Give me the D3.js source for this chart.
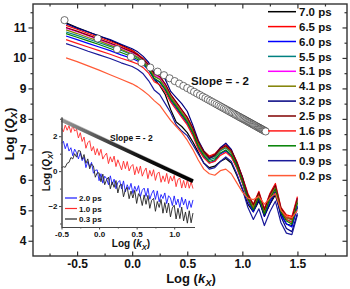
<!DOCTYPE html>
<html><head><meta charset="utf-8">
<script src="https://cdn.jsdelivr.net/npm/d3@7"></script>
<style>
body{margin:0;background:#fff}
svg{display:block}
text{font-family:"Liberation Sans",Arial,sans-serif;font-weight:bold;fill:#111}
</style>
</head><body><svg id="c" width="350" height="289"></svg>
<script>
// ---------- main chart data ----------
const xGrid = [-0.6,-0.5,-0.4,-0.3,-0.2,-0.1,0.0,0.05,0.1,0.15,0.2,0.25,0.3,0.35,0.4,0.45,0.5,0.55,0.6,0.65,0.7,0.75,0.8,0.85,0.9,0.95,1.0,1.05,1.1,1.15,1.2,1.25,1.3,1.35,1.4,1.45,1.5];
const s70 = [11.15,11.0,10.86,10.72,10.58,10.42,10.25,10.12,9.95,9.7,9.3,9.1,8.8,8.3,7.9,7.75,7.55,7.25,6.9,6.55,6.4,6.45,6.6,6.7,6.55,6.15,5.7,5.2,4.95,5.3,4.85,5.2,5.5,4.9,4.55,4.5,5.1];
const s65 = [11.07,10.94,10.8,10.67,10.54,10.4,10.24,10.12,9.98,9.78,9.45,9.38,9.12,8.8,8.55,8.3,8.05,7.7,7.25,6.95,6.78,6.85,7.05,7.15,6.98,6.6,6.1,5.55,5.2,5.62,5.05,5.55,5.88,5.1,4.85,4.8,5.45];
const s60 = [10.72,10.6,10.48,10.36,10.24,10.1,9.98,9.9,9.78,9.6,9.3,9.2,8.95,8.6,8.35,8.1,7.85,7.5,7.05,6.75,6.55,6.62,6.85,6.95,6.78,6.4,5.9,5.3,4.95,5.38,4.8,5.3,5.62,4.85,4.55,4.45,5.15];
const s55 = [10.85,10.74,10.62,10.5,10.38,10.25,10.1,10.0,9.86,9.68,9.4,9.3,9.05,8.7,8.45,8.2,7.95,7.6,7.15,6.85,6.65,6.72,6.95,7.05,6.88,6.5,6.0,5.42,5.08,5.5,4.92,5.42,5.75,5.0,4.7,4.62,5.3];
const s51 = [10.98,10.86,10.73,10.6,10.47,10.33,10.18,10.08,9.94,9.75,9.45,9.35,9.1,8.75,8.5,8.25,8.0,7.65,7.2,6.9,6.72,6.8,7.0,7.1,6.92,6.55,6.05,5.5,5.15,5.55,5.0,5.5,5.8,5.05,4.78,4.7,5.38];
const s41 = [10.92,10.8,10.67,10.55,10.42,10.28,10.13,10.03,9.9,9.7,9.4,9.3,9.05,8.72,8.47,8.22,7.97,7.62,7.18,6.88,6.7,6.77,6.98,7.08,6.9,6.52,6.02,5.47,5.12,5.52,4.97,5.47,5.78,5.02,4.75,4.68,5.35];
const s32 = [11.12,10.98,10.85,10.72,10.6,10.45,10.3,10.2,10.05,9.85,9.5,9.55,9.3,8.9,8.7,8.5,8.25,7.8,7.3,6.95,6.7,6.8,7.05,7.2,7.0,6.55,6.1,5.4,5.0,5.35,4.8,5.2,5.6,4.8,4.4,4.3,4.9];
const s25 = [11.0,10.88,10.75,10.62,10.49,10.35,10.2,10.1,9.96,9.77,9.48,9.4,9.15,8.8,8.55,8.3,8.05,7.7,7.25,6.92,6.74,6.82,7.02,7.12,6.95,6.58,6.08,5.52,5.18,5.58,5.02,5.52,5.82,5.08,4.8,4.72,5.4];
const s16 = [10.6,10.48,10.36,10.24,10.12,9.99,9.87,9.8,9.68,9.5,9.22,9.12,8.88,8.55,8.3,8.05,7.8,7.45,7.0,6.72,6.55,6.6,6.8,6.9,6.75,6.38,5.9,5.35,5.05,5.45,4.9,5.4,5.7,4.98,4.7,4.6,5.25];
const s11 = [10.8,10.68,10.56,10.44,10.31,10.18,10.04,9.95,9.82,9.62,9.33,9.22,8.98,8.65,8.4,8.15,7.9,7.55,7.1,6.8,6.6,6.66,6.88,6.98,6.82,6.45,5.95,5.38,5.02,5.45,4.88,5.38,5.7,4.95,4.65,4.55,5.25];
const s09 = [10.47,10.35,10.22,10.1,9.98,9.84,9.72,9.62,9.48,9.25,8.95,8.8,8.5,8.2,7.8,7.6,7.45,7.15,6.85,6.55,6.35,6.4,6.6,6.75,6.6,6.2,5.7,5.1,4.7,5.05,4.5,4.95,5.3,4.6,4.25,4.2,4.85];
const s02 = [10.0,9.88,9.74,9.6,9.45,9.3,9.15,9.05,8.92,8.78,8.6,8.45,8.2,7.95,7.75,7.55,7.3,7.0,6.65,6.35,6.2,6.15,6.3,6.35,6.2,5.9,5.6,5.4,5.35,5.45,5.2,5.4,5.55,5.0,4.8,4.75,5.0];
const seriesNames = ["7.0 ps","6.5 ps","6.0 ps","5.5 ps","5.1 ps","4.1 ps","3.2 ps","2.5 ps","1.6 ps","1.1 ps","0.9 ps","0.2 ps"];
const seriesColors = ["#000000","#ff0000","#0000ff","#008080","#ff00ff","#808000","#000080","#800000","#ff1a1a","#008000","#1a1a9a","#ff5a36"];
const seriesValues = [s70,s65,s60,s55,s51,s41,s32,s25,s16,s11,s09,s02];

// slope = -2 reference (open circles)
const circX = [-0.614,-0.313,-0.137,-0.012,0.085,0.164,0.231,0.289,0.340,0.386,0.427,0.465,0.500,0.532,0.562,0.590,0.616,0.641,0.665,0.687,0.708,0.728,0.748,0.766,0.784,0.801,0.817,0.833,0.848,0.863,0.877,0.891,0.905,0.917,0.930,0.942,0.954,0.966,0.977,0.988,0.999,1.009,1.019,1.029,1.039,1.049,1.058,1.067,1.076,1.085,1.094,1.102,1.110,1.118,1.126,1.134,1.142,1.149,1.157,1.164,1.171,1.178,1.185,1.192,1.199,1.206,1.212];
const circY = [11.24,10.638,10.286,10.036,9.842,9.684,9.55,9.434,9.332,9.24,9.158,9.082,9.012,8.948,8.888,8.832,8.78,8.73,8.682,8.638,8.596,8.556,8.516,8.48,8.444,8.41,8.378,8.346,8.316,8.286,8.258,8.23,8.202,8.178,8.152,8.128,8.104,8.08,8.058,8.036,8.014,7.994,7.974,7.954,7.934,7.914,7.896,7.878,7.86,7.842,7.824,7.808,7.792,7.776,7.76,7.744,7.728,7.714,7.698,7.684,7.67,7.656,7.642,7.628,7.614,7.6,7.588];

const xMajor = [-0.5,0.0,0.5,1.0,1.5];
const xMinor = [-0.75,-0.25,0.25,0.75,1.25,1.75];
const yMajor = [4,5,6,7,8,9,10,11];
const yMinor = [4.5,5.5,6.5,7.5,8.5,9.5,10.5,11.5];

// ---------- inset data ----------
const insetX = [-0.5,-0.475,-0.45,-0.425,-0.4,-0.375,-0.35,-0.325,-0.3,-0.275,-0.25,-0.225,-0.2,-0.175,-0.15,-0.125,-0.1,-0.075,-0.05,-0.025,0.0,0.025,0.05,0.075,0.1,0.125,0.15,0.175,0.2,0.225,0.25,0.275,0.3,0.325,0.35,0.375,0.4,0.425,0.45,0.475,0.5,0.525,0.55,0.575,0.6,0.625,0.65,0.675,0.7,0.725,0.75,0.775,0.8,0.825,0.85,0.875,0.9,0.925,0.95,0.975,1.0,1.025,1.05,1.075,1.1,1.125,1.15,1.175,1.2,1.225,1.25];
const in20 = [1.60,1.71,1.28,1.59,1.15,1.34,0.88,1.26,1.05,0.70,1.05,0.60,0.80,0.20,0.55,0.25,0.50,-0.12,0.05,0.07,-0.55,-0.15,-0.69,-0.29,-0.43,-0.78,-0.27,-0.77,-0.46,-1.01,-0.65,-0.54,-1.02,-0.56,-1.19,-0.78,-1.06,-0.70,-1.28,-0.87,-1.15,-0.83,-1.46,-1.09,-0.97,-1.45,-0.98,-1.61,-1.29,-1.09,-1.62,-1.13,-1.76,-1.34,-1.57,-1.25,-1.86,-1.41,-1.54,-1.97,-1.42,-1.93,-1.60,-2.08,-1.50,-1.93,-1.60,-2.18,-1.70,-2.08,-1.65];
const in10 = [2.45,2.26,2.63,2.34,2.60,2.21,2.63,2.29,2.40,1.90,2.20,1.70,1.95,1.31,1.63,1.74,1.15,1.41,0.93,1.29,0.90,1.25,0.69,0.89,1.03,0.43,0.82,0.52,0.86,0.26,0.65,0.36,0.07,0.58,0.14,0.55,0.01,0.27,0.38,-0.21,0.25,-0.13,0.29,-0.29,-0.02,0.18,-0.43,0.04,-0.29,0.08,-0.53,-0.13,-0.06,-0.64,-0.27,-0.60,-0.13,-0.71,-0.29,-0.57,-0.25,-0.89,-0.47,-0.41,-0.97,-0.53,-0.96,-0.50,-0.98,-0.62,-1.00];
const in03 = [0.20,0.25,0.22,0.45,0.50,0.78,0.70,1.00,0.80,1.18,1.15,0.68,0.95,0.45,0.70,0.13,0.40,0.30,-0.35,-0.10,-0.10,-0.61,-0.17,-0.78,-0.49,-0.35,-1.01,-0.62,-0.93,-0.54,-1.25,-0.81,-0.76,-1.47,-1.07,-0.93,-1.58,-1.14,-1.54,-1.10,-1.85,-1.29,-1.48,-1.97,-1.36,-1.90,-1.39,-2.13,-1.67,-1.56,-2.30,-1.74,-2.08,-1.62,-2.41,-1.80,-2.39,-1.83,-2.62,-2.11,-1.95,-2.74,-2.13,-2.72,-2.06,-2.85,-2.34,-2.98,-2.27,-2.96,-2.40];
const insetNames = ["2.0 ps","1.0 ps","0.3 ps"];
const insetColors = ["#1a1aff","#ff2a2a","#222222"];
const insetValues = [in20,in10,in03];
const insetSlopeX = [-0.5,1.25];
const insetSlopeY = [2.92,-0.58];
const ixMajor = [-0.5,0.0,0.5,1.0];
const ixMinor = [-0.25,0.25,0.75];
const iyMajor = [-2,0,2];
const iyMinor = [-3,-1,1,3];

// ---------- drawing ----------
const svg = d3.select("#c");
const L=33,R=347,T=4,B=256;
const x = d3.scaleLinear().domain([-0.9,1.95]).range([L,R]);
const y = d3.scaleLinear().domain([3.5,11.77]).range([B,T]);
const fmt = d => d.toFixed(1);
const axCol = "#333";

function styleAxis(g){
  g.select(".domain").remove();
  g.selectAll(".tick line").attr("stroke",axCol).attr("stroke-width",1.2);
  g.selectAll("text").attr("fill","#111").style("font-family","Liberation Sans, Arial, sans-serif").style("font-weight","bold");
}
// bottom
svg.append("g").attr("transform",`translate(0,${B})`)
  .call(d3.axisBottom(x).tickValues(xMajor).tickSize(-4.5).tickPadding(3.5).tickFormat(fmt))
  .call(styleAxis).selectAll("text").style("font-size","12px");
svg.append("g").attr("transform",`translate(0,${B})`)
  .call(d3.axisBottom(x).tickValues(xMinor).tickSize(-2.5).tickFormat(""))
  .call(styleAxis);
// top
svg.append("g").attr("transform",`translate(0,${T})`)
  .call(d3.axisTop(x).tickValues(xMajor).tickSize(-4.5).tickFormat(""))
  .call(styleAxis);
svg.append("g").attr("transform",`translate(0,${T})`)
  .call(d3.axisTop(x).tickValues(xMinor).tickSize(-2.5).tickFormat(""))
  .call(styleAxis);
// left
svg.append("g").attr("transform",`translate(${L},0)`)
  .call(d3.axisLeft(y).tickValues(yMajor).tickSize(4.5).tickPadding(2).tickFormat(d3.format("d")))
  .call(styleAxis).selectAll("text").style("font-size","12px");
svg.append("g").attr("transform",`translate(${L},0)`)
  .call(d3.axisLeft(y).tickValues(yMinor).tickSize(2.5).tickFormat(""))
  .call(styleAxis);
// right
svg.append("g").attr("transform",`translate(${R},0)`)
  .call(d3.axisRight(y).tickValues(yMajor).tickSize(-4.5).tickFormat(""))
  .call(styleAxis);
svg.append("g").attr("transform",`translate(${R},0)`)
  .call(d3.axisRight(y).tickValues(yMinor).tickSize(-2.5).tickFormat(""))
  .call(styleAxis);
// frame
svg.append("rect").attr("x",L).attr("y",T).attr("width",R-L).attr("height",B-T)
  .attr("fill","none").attr("stroke",axCol).attr("stroke-width",1.4);

// axis titles
const xt = svg.append("text").attr("x",(L+R)/2+1).attr("y",283).attr("text-anchor","middle").style("font-size","13px");
xt.append("tspan").text("Log (");
xt.append("tspan").text("k").style("font-style","italic");
xt.append("tspan").text("X").style("font-style","italic").style("font-size","9.5px").attr("dy",3);
xt.append("tspan").text(")").attr("dy",-3);
const yt = svg.append("text").attr("transform","translate(14,134) rotate(-90)").attr("text-anchor","middle").style("font-size","13px");
yt.append("tspan").text("Log (");
yt.append("tspan").text("Q").style("font-style","italic");
yt.append("tspan").text("X").style("font-style","italic").style("font-size","9.5px").attr("dy",3);
yt.append("tspan").text(")").attr("dy",-3);

// ---------- inset ----------
const xi = d3.scaleLinear().domain([-0.5,1.27]).range([61.5,194.5]);
const yi = d3.scaleLinear().domain([-3.2,3.1]).range([227,117]);

const grad = svg.append("defs").append("linearGradient").attr("id","sg")
  .attr("gradientUnits","userSpaceOnUse")
  .attr("x1",xi(insetSlopeX[0])).attr("x2",xi(insetSlopeX[1])).attr("y1",0).attr("y2",0);
grad.append("stop").attr("offset",0).attr("stop-color","#9a9a9a");
grad.append("stop").attr("offset",0.35).attr("stop-color","#444");
grad.append("stop").attr("offset",0.6).attr("stop-color","#111");
grad.append("stop").attr("offset",1).attr("stop-color","#000");

const iline = d3.line().x((d,i)=>xi(insetX[i])).y(d=>yi(d));
insetValues.forEach((vals,k)=>{
  svg.append("path").datum(vals).attr("d",iline).attr("fill","none")
    .attr("stroke",insetColors[k]).attr("stroke-width",0.9).attr("stroke-linejoin","round");
});
// slope band
svg.append("line").attr("x1",xi(insetSlopeX[0])).attr("y1",yi(insetSlopeY[0])-2.2)
  .attr("x2",xi(insetSlopeX[1])).attr("y2",yi(insetSlopeY[1])-2.2)
  .attr("stroke","#c8c8c8").attr("stroke-width",1);
svg.append("line").attr("x1",xi(insetSlopeX[0])).attr("y1",yi(insetSlopeY[0]))
  .attr("x2",xi(insetSlopeX[1])).attr("y2",yi(insetSlopeY[1]))
  .attr("stroke","url(#sg)").attr("stroke-width",3.6);

// inset axes
function styleI(g){
  g.select(".domain").attr("stroke","#444").attr("stroke-width",1);
  g.selectAll(".tick line").attr("stroke","#444").attr("stroke-width",1);
  g.selectAll("text").attr("fill","#111").style("font-size","8px").style("font-family","Liberation Sans, Arial, sans-serif").style("font-weight","bold");
}
svg.append("g").attr("transform","translate(0,227)")
  .call(d3.axisBottom(xi).tickValues(ixMajor).tickSize(2.5).tickSizeOuter(0).tickPadding(1.5).tickFormat(fmt))
  .call(styleI);
svg.append("g").attr("transform","translate(0,227)")
  .call(d3.axisBottom(xi).tickValues(ixMinor).tickSize(1.5).tickSizeOuter(0).tickFormat(""))
  .call(styleI);
svg.append("g").attr("transform","translate(61.5,0)")
  .call(d3.axisLeft(yi).tickValues(iyMajor).tickSize(2.5).tickSizeOuter(0).tickPadding(1.5).tickFormat(d3.format("d")))
  .call(styleI);
svg.append("g").attr("transform","translate(61.5,0)")
  .call(d3.axisLeft(yi).tickValues(iyMinor).tickSize(1.5).tickSizeOuter(0).tickFormat(""))
  .call(styleI);

svg.append("text").attr("x",110).attr("y",141).style("font-size","8.5px").text("Slope = - 2");

const ixt = svg.append("text").attr("x",131).attr("y",247).attr("text-anchor","middle").style("font-size","10px");
ixt.append("tspan").text("Log (");
ixt.append("tspan").text("k").style("font-style","italic");
ixt.append("tspan").text("X").style("font-style","italic").style("font-size","7.5px").attr("dy",2.5);
ixt.append("tspan").text(")").attr("dy",-2.5);
const iyt = svg.append("text").attr("transform","translate(50,171) rotate(-90)").attr("text-anchor","middle").style("font-size","10px");
iyt.append("tspan").text("Log (");
iyt.append("tspan").text("Q").style("font-style","italic");
iyt.append("tspan").text("X").style("font-style","italic").style("font-size","7.5px").attr("dy",2.5);
iyt.append("tspan").text(")").attr("dy",-2.5);

insetNames.forEach((n,k)=>{
  const cy = 198 + k*10.5;
  svg.append("line").attr("x1",65).attr("x2",77).attr("y1",cy).attr("y2",cy)
    .attr("stroke",insetColors[k]).attr("stroke-width",1.2);
  svg.append("text").attr("x",79).attr("y",cy+3).style("font-size","8px").text(n);
});

// ---------- main series ----------
const line = d3.line().x((d,i)=>x(xGrid[i])).y(d=>y(d));
seriesValues.forEach((vals,k)=>{
  svg.append("path").datum(vals).attr("d",line).attr("fill","none")
    .attr("stroke",seriesColors[k]).attr("stroke-width",1.2).attr("stroke-linejoin","round");
});

// circles
svg.append("g").selectAll("circle").data(circX).join("circle")
  .attr("cx",d=>x(d)).attr("cy",(d,i)=>y(circY[i])).attr("r",3.6)
  .attr("fill","#fff").attr("stroke","#333").attr("stroke-width",0.7);

svg.append("text").attr("x",191).attr("y",85).style("font-size","11.5px").text("Slope = - 2");

// legend
seriesNames.forEach((n,k)=>{
  const cy = 11.7 + k*14.9;
  svg.append("line").attr("x1",268).attr("x2",296).attr("y1",cy).attr("y2",cy)
    .attr("stroke",seriesColors[k]).attr("stroke-width",1.5);
  svg.append("text").attr("x",299).attr("y",cy+4.1).style("font-size","11.5px").text(n);
});
</script>
</body></html>
